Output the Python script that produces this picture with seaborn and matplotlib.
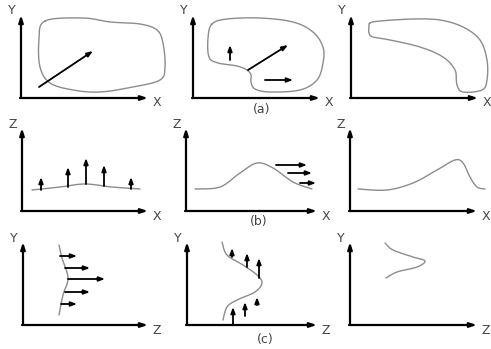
import numpy as np
import pandas as pd
import seaborn as sns
import matplotlib.pyplot as plt

# ---- diagram geometry (image pixel units, y grows downward) ----
# origin and axis ends for each of the 3x3 panels
panel_origin_x = [21, 193, 351, 22, 186, 350, 23, 187, 350]
panel_origin_y = [98, 98, 98, 211, 211, 211, 325, 325, 325]
panel_x_end = [148, 320, 478, 148, 317, 477, 148, 317, 477]
panel_y_top = [15, 15, 15, 128, 128, 128, 242, 242, 242]
vert_labels = ["Y", "Y", "Y", "Z", "Z", "Z", "Y", "Y", "Y"]
horiz_labels = ["X", "X", "X", "X", "X", "X", "Z", "Z", "Z"]
row_labels = ["(a)", "(b)", "(c)"]
row_label_x = [262, 259, 265]
row_label_y = [109, 221, 340]

# closed outlines (row a)
blob1_x = [45, 83, 110, 140, 157, 163, 165, 160, 133, 100, 73, 50, 40, 39]
blob1_y = [21, 18, 22, 24, 30, 43, 67, 80, 87, 92, 90, 83, 67, 40]
blob2_x = [212, 227, 260, 293, 313, 323, 323, 317, 300, 270, 255, 251, 251, 247, 237, 218, 209, 208]
blob2_y = [24, 19, 18, 22, 32, 47, 63, 80, 90, 92, 89, 82, 75, 70, 66, 63, 57, 38]
blob3_x = [370, 380, 413, 440, 463, 480, 487, 487, 482, 463, 457, 455, 443, 420, 390, 373, 369, 369]
blob3_y = [23, 21, 19, 20, 27, 40, 60, 80, 90, 92, 85, 70, 57, 47, 40, 37, 33, 27]

# open curves (rows b and c)
curve4_x = [32, 60, 85, 112, 140]
curve4_y = [190, 187, 184, 187, 189]
curve5_x = [195, 220, 240, 257, 273, 293, 312]
curve5_y = [189, 187, 173, 163, 168, 182, 189]
curve6_x = [358, 387, 413, 437, 455, 463, 470, 477, 485]
curve6_y = [189, 190, 183, 170, 160, 163, 177, 187, 189]
curve7_x = [59, 62, 68, 63, 59]
curve7_y = [245, 258, 278, 295, 315]
curve8_x = [222, 227, 243, 257, 262, 255, 237, 227, 223]
curve8_y = [242, 255, 265, 275, 283, 292, 300, 307, 320]
curve9_x = [385, 393, 413, 425, 417, 397, 386]
curve9_y = [243, 250, 257, 261, 267, 272, 278]

# arrows: (x0, y0) -> (x1, y1)
arrow_x0 = [39, 230, 248, 265, 41, 68, 86, 104, 131, 276, 288, 300,
            60, 65, 68, 65, 61, 232, 247, 259, 233, 245, 257]
arrow_y0 = [87, 60, 70, 80, 190, 187, 184, 186, 189, 165, 173, 183,
            256, 268, 279, 292, 304, 257, 267, 278, 325, 316, 305]
arrow_x1 = [93, 230, 288, 293, 41, 68, 86, 104, 131, 307, 312, 316,
            77, 90, 105, 90, 77, 232, 247, 259, 233, 245, 257]
arrow_y1 = [51, 45, 45, 80, 177, 167, 158, 165, 177, 165, 173, 183,
            256, 268, 279, 292, 304, 248, 253, 258, 307, 302, 297]

W, H = 491, 349


def smooth(xs, ys, closed=False, n=12):
    # Catmull-Rom pass so the outlines look hand-drawn rather than polygonal
    p = np.column_stack([xs, ys]).astype(float)
    if closed:
        p = np.vstack([p[-1], p, p[0], p[1]])
    else:
        p = np.vstack([p[0], p, p[-1]])
    out = []
    for i in range(1, len(p) - 2):
        p0, p1, p2, p3 = p[i - 1], p[i], p[i + 1], p[i + 2]
        for t in np.linspace(0, 1, n, endpoint=False):
            t2, t3 = t * t, t * t * t
            out.append(0.5 * ((2 * p1) + (-p0 + p2) * t
                              + (2 * p0 - 5 * p1 + 4 * p2 - p3) * t2
                              + (-p0 + 3 * p1 - 3 * p2 + p3) * t3))
    out.append(p[-2])
    out = np.array(out)
    return out[:, 0], out[:, 1]


sns.set_style("white")
plt.rcParams["font.family"] = ["DejaVu Sans"]

fig = plt.figure(figsize=(W / 100, H / 100), dpi=100)
ax = fig.add_axes([0, 0, 1, 1])
ax.set_xlim(0, W)
ax.set_ylim(H, 0)
ax.axis("off")

curve_color = "#8c8c8c"
shapes = [(blob1_x, blob1_y, True), (blob2_x, blob2_y, True), (blob3_x, blob3_y, True),
          (curve4_x, curve4_y, False), (curve5_x, curve5_y, False), (curve6_x, curve6_y, False),
          (curve7_x, curve7_y, False), (curve8_x, curve8_y, False), (curve9_x, curve9_y, False)]
for xs, ys, closed in shapes:
    sx, sy = smooth(xs, ys, closed)
    df = pd.DataFrame({"x": sx, "y": sy})
    sns.lineplot(data=df, x="x", y="y", sort=False, estimator=None,
                 color=curve_color, linewidth=1.0, ax=ax)

# coordinate axes of each panel
axis_style = dict(arrowstyle="-|>,head_length=0.4,head_width=0.13", color="black",
                  linewidth=1.6, shrinkA=0, shrinkB=0)
for i in range(9):
    ox, oy = panel_origin_x[i], panel_origin_y[i]
    ax.annotate("", xy=(ox, panel_y_top[i]), xytext=(ox, oy), arrowprops=axis_style)
    ax.annotate("", xy=(panel_x_end[i], oy), xytext=(ox - 1, oy), arrowprops=axis_style)
    ax.text(ox - 9, panel_y_top[i] - 4, vert_labels[i], fontsize=9, color="#444444",
            ha="center", va="center")
    ax.text(panel_x_end[i] + 9, oy + 5, horiz_labels[i], fontsize=9, color="#444444",
            ha="center", va="center")

# vectors
vec_style = dict(arrowstyle="-|>,head_length=0.35,head_width=0.13", color="black",
                 linewidth=1.3, shrinkA=0, shrinkB=0)
for x0, y0, x1, y1 in zip(arrow_x0, arrow_y0, arrow_x1, arrow_y1):
    ax.annotate("", xy=(x1, y1), xytext=(x0, y0), arrowprops=vec_style)

for lab, lx, ly in zip(row_labels, row_label_x, row_label_y):
    ax.text(lx, ly, lab, fontsize=9, color="#444444", ha="center", va="center")

fig.savefig("out.png", dpi=100, facecolor="white")
